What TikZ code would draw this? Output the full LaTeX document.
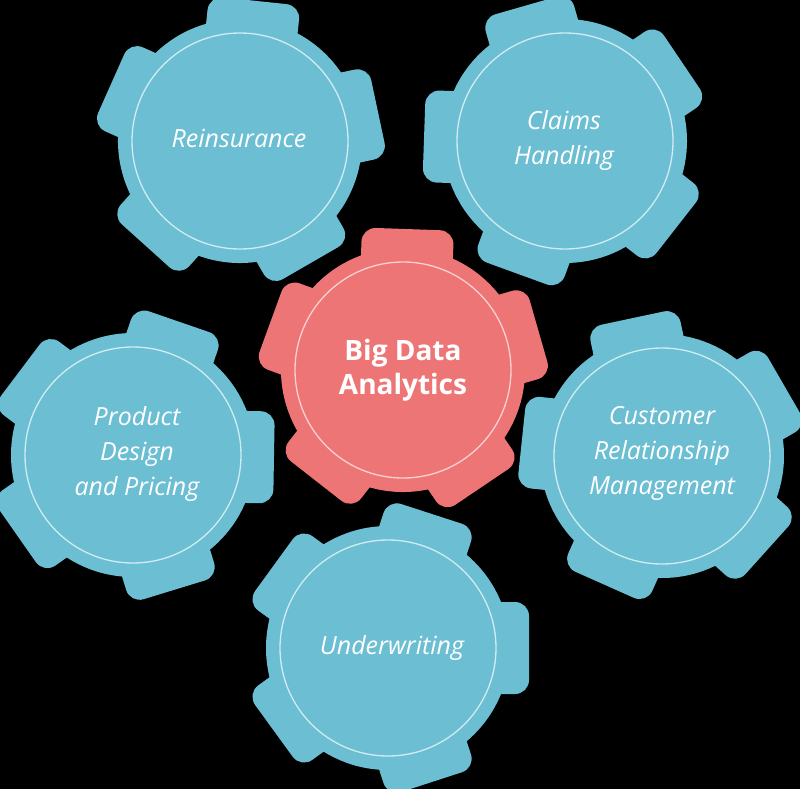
\documentclass[tikz,border=0pt]{standalone}
\usepackage{fontspec}
\setmainfont{Open Sans}
\definecolor{gblue}{RGB}{108,190,211}
\definecolor{gred}{RGB}{238,117,118}
\definecolor{lblue}{RGB}{208,236,243}
\definecolor{lred}{RGB}{250,208,208}
\tikzset{
  x=1pt, y=1pt,
  ring/.style={circle, draw=#1, line width=1.3pt, minimum size=216pt, inner sep=0pt},
  geartext/.style={text=white, align=center, inner sep=0pt,
    font=\fontsize{25}{35}\selectfont\itshape},
  bigtext/.style={text=white, align=center, inner sep=0pt,
    font=\fontsize{28}{34}\selectfont\bfseries},
}
% #1 x, #2 y (image coords, y down), #3 tooth offset angle, #4 fill colour
\newcommand\gearshape[4]{%
  \begin{scope}[shift={(#1,-#2)}, rotate=#3]
    \fill[#4] (0,0) circle (122pt);
    \foreach \k in {0,...,4}
      \fill[#4, rotate=72*\k, rounded corners=14pt] (88,-46) rectangle (141,46);
  \end{scope}}
\begin{document}
\begin{tikzpicture}
  \useasboundingbox (0,0) rectangle (800,-789);
  \fill[black] (0,0) rectangle (800,-789);

  \gearshape{240}{141}{12}{gblue}
  \gearshape{565}{141}{34}{gblue}
  \gearshape{133}{455}{-1}{gblue}
  \gearshape{662}{456}{30}{gblue}
  \gearshape{388}{648}{0}{gblue}
  \gearshape{403}{370}{16}{gred}

  \node[ring=lblue] (rein) at (240,-141) {};
  \node[ring=lblue] (claims) at (565,-141) {};
  \node[ring=lblue] (product) at (133,-455) {};
  \node[ring=lblue] (crm) at (662,-456) {};
  \node[ring=lblue] (under) at (388,-648) {};
  \node[ring=lred] (bigdata) at (403,-370) {};

  \node[geartext] (reintext) at (239,-138) {Reinsurance};
  \node[geartext] (claimstext) at (564,-141) {Claims\\Handling};
  \node[geartext] (producttext) at (137,-454) {Product\\Design\\and Pricing};
  \node[geartext] (crmtext) at (662,-453) {Customer\\Relationship\\Management};
  \node[geartext] (undertext) at (392,-648) {Underwriting};
  \node[bigtext] (bigtext) at (403,-370) {Big Data\\Analytics};
\end{tikzpicture}
\end{document}
